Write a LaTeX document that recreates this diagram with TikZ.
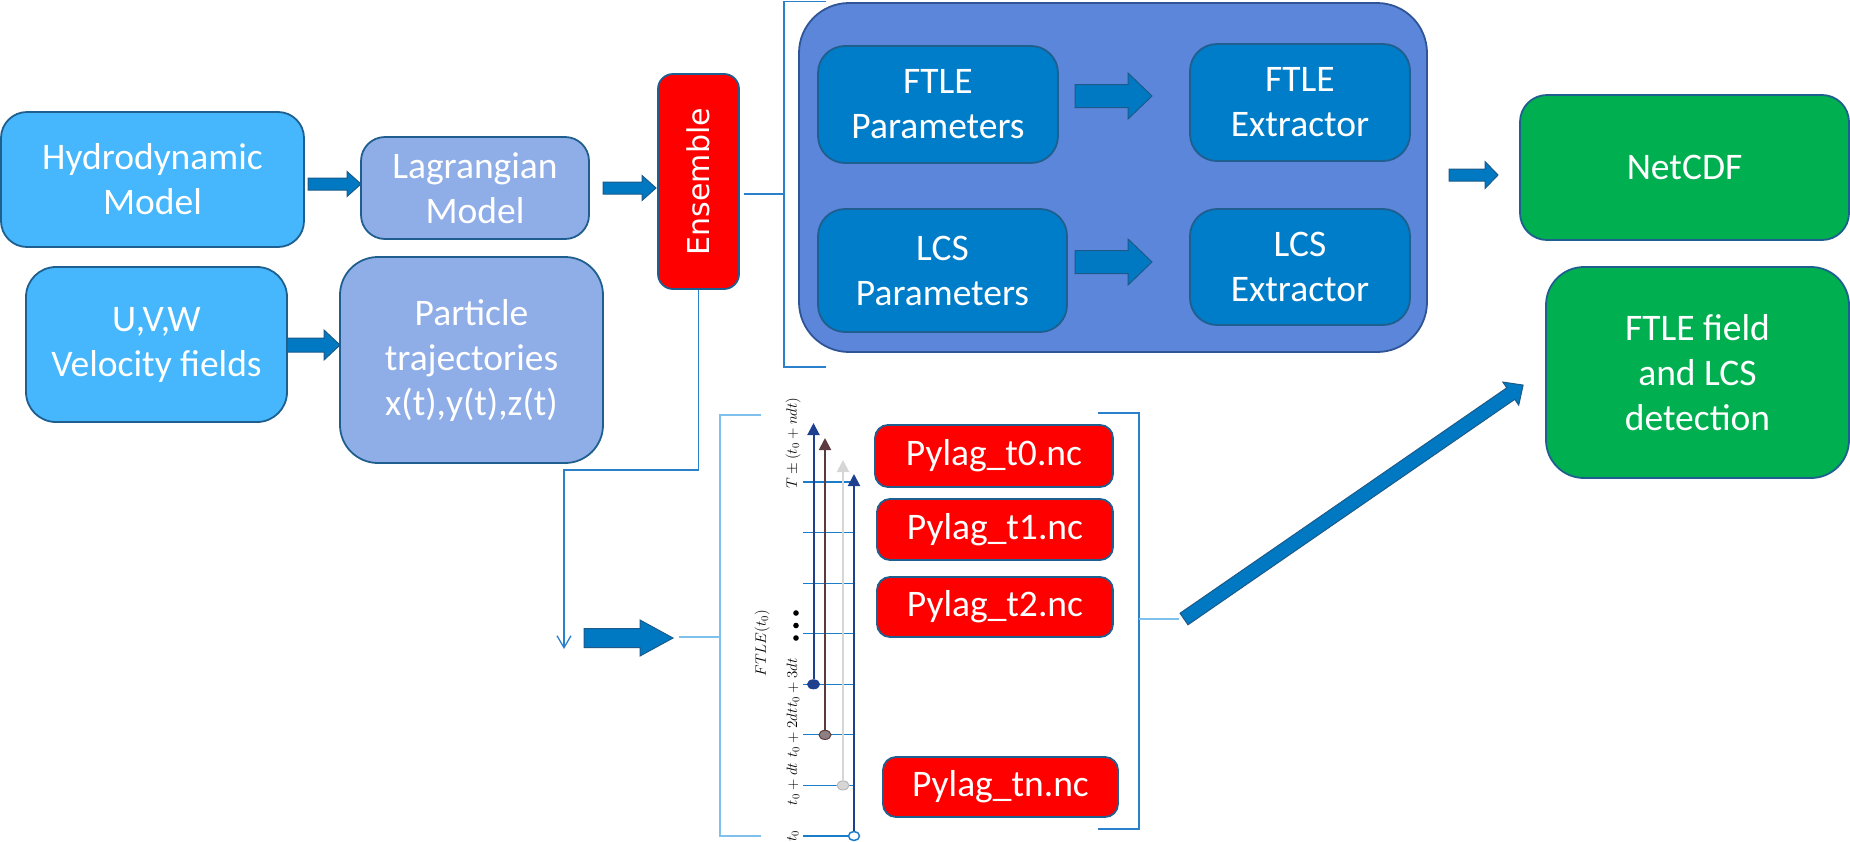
\RequirePackage{fix-cm}
\documentclass[tikz,border=0pt]{standalone}
\usepackage[no-math]{fontspec}
\setmainfont{Carlito}
\newfontfamily\ensfont{DejaVu Sans}
\usetikzlibrary{arrows.meta,calc,shapes.geometric}
\definecolor{skyfill}{HTML}{46B7FD}
\definecolor{lavfill}{HTML}{8FADE6}
\definecolor{bigfill}{HTML}{5B86DA}
\definecolor{innerfill}{HTML}{007DC8}
\definecolor{boxedge}{HTML}{1F5F8F}
\definecolor{bigedge}{HTML}{2F5597}
\definecolor{arrowfill}{HTML}{0079C2}
\definecolor{arrowedge}{HTML}{1B5A8A}
\definecolor{greenfill}{HTML}{00B050}
\definecolor{linkblue}{HTML}{2A80CA}
\definecolor{lightlink}{HTML}{7FC1EC}
\definecolor{navy}{HTML}{1F3F8F}
\definecolor{plum}{HTML}{5B3B3F}
\definecolor{plumdot}{HTML}{8E7F80}
\definecolor{paleline}{HTML}{D6D6D6}
\definecolor{palerim}{HTML}{B8B8B8}
\definecolor{tickblue}{HTML}{1B7CC7}
\tikzset{
  box/.style={draw=boxedge, line width=1.8pt, text=white, align=center,
    inner sep=0pt, font=\fontsize{37.5}{45}\selectfont},
  skybox/.style={box, fill=skyfill},
  lavbox/.style={box, fill=lavfill},
  redbox/.style={box, fill=red},
  bigbox/.style={box, draw=bigedge, fill=bigfill},
  innerbox/.style={box, fill=innerfill, rounded corners=27pt},
  greenbox/.style={box, fill=greenfill},
  pylag/.style={box, fill=red, rounded corners=13pt},
  link/.style={draw=linkblue, line width=1.3pt},
  pale/.style={draw=lightlink, line width=1.5pt},
  tickline/.style={draw=tickblue, line width=1.2pt},
  tarrow/.style={line width=2pt, -{Triangle[length=12pt,width=12pt]}},
  tdot/.style={ellipse, inner sep=0pt, minimum width=12pt, minimum height=9pt, line width=1pt},
  tlab/.style={rotate=90, inner sep=0pt, font=\fontsize{15}{18}\selectfont},
  pics/barrow/.style n args={4}{code={%
    \filldraw[fill=arrowfill, draw=arrowedge, line width=1pt]
      (0,-#2/2) -- ({#1-#4},-#2/2) -- ({#1-#4},-#3/2) -- (#1,0)
      -- ({#1-#4},#3/2) -- ({#1-#4},#2/2) -- (0,#2/2) -- cycle;}}
}
\begin{document}
\begin{tikzpicture}[x=1pt,y=-1pt]
\useasboundingbox (0,0) rectangle (1850,841);

% left column
\node[skybox, minimum width=303pt, minimum height=135pt, rounded corners=26pt] (hydro) at (152.5,179.5) {Hydrodynamic\\Model};
\node[lavbox, minimum width=228pt, minimum height=102pt, rounded corners=24pt] (lagr) at (475,188) {Lagrangian\\Model};
\node[redbox, minimum width=81pt, minimum height=215pt, rounded corners=15pt] (ens) at (698.5,181.5) {\ensfont\fontsize{30}{36}\selectfont\rotatebox{90}{Ensemble}};
\node[skybox, minimum width=261pt, minimum height=155pt, rounded corners=30pt] (uvw) at (156.5,344.5) {U,V,W\\Velocity fields};
\node[lavbox, minimum width=263pt, minimum height=206pt, rounded corners=38pt] (part) at (471.5,360) {Particle\\trajectories\\x(t),y(t),z(t)};

% group
\node[bigbox, minimum width=628pt, minimum height=349pt, rounded corners=50pt] (grp) at (1113,177.5) {};
\node[innerbox, minimum width=240pt, minimum height=117pt] (ftlep) at (938,104.5) {FTLE\\Parameters};
\node[innerbox, minimum width=220pt, minimum height=117pt] (ftlee) at (1300,102.5) {FTLE\\Extractor};
\node[innerbox, minimum width=249pt, minimum height=123pt] (lcsp) at (942.5,270.5) {LCS\\Parameters};
\node[innerbox, minimum width=220pt, minimum height=116pt] (lcse) at (1300,267) {LCS\\Extractor};

% outputs
\node[greenbox, minimum width=329pt, minimum height=145pt, rounded corners=27pt] (netcdf) at (1684.5,167.5) {NetCDF};
\node[greenbox, minimum width=303pt, minimum height=211pt, rounded corners=38pt] (ftlef) at (1697.5,372.5) {FTLE field\\and LCS\\detection};

% pylag files
\node[pylag, minimum width=238pt, minimum height=62pt] (p0) at (994,456) {Pylag\_t0.nc};
\node[pylag, minimum width=236pt, minimum height=61pt] (p1) at (995,529.5) {Pylag\_t1.nc};
\node[pylag, minimum width=236pt, minimum height=60pt] (p2) at (995,607) {Pylag\_t2.nc};
\node[pylag, minimum width=235pt, minimum height=60pt] (pn) at (1000.5,787) {Pylag\_tn.nc};

% block arrows
\pic at (308,184) {barrow={53}{12}{25}{14}};
\pic at (603,188) {barrow={53}{12}{25}{14}};
\pic at (287,345) {barrow={53}{14}{30}{16}};
\pic at (1075,96) {barrow={77}{23}{46}{24}};
\pic at (1075,262) {barrow={77}{23}{46}{24}};
\pic at (1449,175) {barrow={49}{12}{27}{13}};
\pic at (584,638) {barrow={89}{19}{36}{33}};
\pic[rotate=34.6] at (1184,619) {barrow={412}{14}{28}{15}};

% thin connectors and brackets
\coordinate (gb) at (784,194);
\draw[link] ($(ens.east |- gb)+(4,0)$) -- (gb);
\draw[link] (826,1.5) -- (784,1.5) -- (784,367) -- (826,367);
\coordinate (drop) at (564,649);
\draw[link, -{Straight Barb[length=12pt,width=14pt]}] (ens.south) -- ++(0,180) -| (drop);
\coordinate (tb) at (720,637);
\draw[pale] (761,415) -- (720,415) -- (720,836) -- (761,836);
\draw[pale] (679,637) -- (tb);
\coordinate (rb) at (1139,619);
\draw[link] (1098,413) -- (1139,413) -- (1139,829) -- (1098,829);
\draw[pale] (rb) -- (1179,619);

% timeline
\foreach \k in {0,...,7}{
  \draw[tickline] (803,{836-50.57*\k}) -- (855,{836-50.57*\k});
}
\node[tdot, fill=navy, draw=navy] (d1) at (813.5,684.3) {};
\node[tdot, fill=plumdot, draw=plum] (d2) at (825,734.9) {};
\node[tdot, fill=paleline, draw=palerim] (d3) at (843,785.4) {};
\node[tdot, fill=white, draw=tickblue, line width=1.5pt, minimum width=11pt] (d4) at (854,836) {};
\coordinate (a1) at (813.5,423);
\coordinate (a2) at (825,438);
\coordinate (a3) at (843,460);
\coordinate (a4) at (854,474);
\draw[tarrow, navy] (d1) -- (a1);
\draw[tarrow, plum] (d2) -- (a2);
\draw[tarrow, paleline] (d3) -- (a3);
\draw[tarrow, navy] (d4) -- (a4);

\node[tlab] (l0) at (793,836) {$t_0$};
\node[tlab] (l1) at (793,784) {$t_0+dt$};
\node[tlab] (l2) at (793,733) {$t_0+2dt$};
\node[tlab] (l3) at (793,683) {$t_0+3dt$};
\node[tlab, anchor=west] (lT) at (793,489) {$T\pm(t_0+ndt)$};
\node[tlab] (lF) at (762,643) {$FTLE(t_0)$};
\foreach \yy in {613,625.5,638}{ \fill (796,\yy) circle (2.8pt); }
\end{tikzpicture}
\end{document}
